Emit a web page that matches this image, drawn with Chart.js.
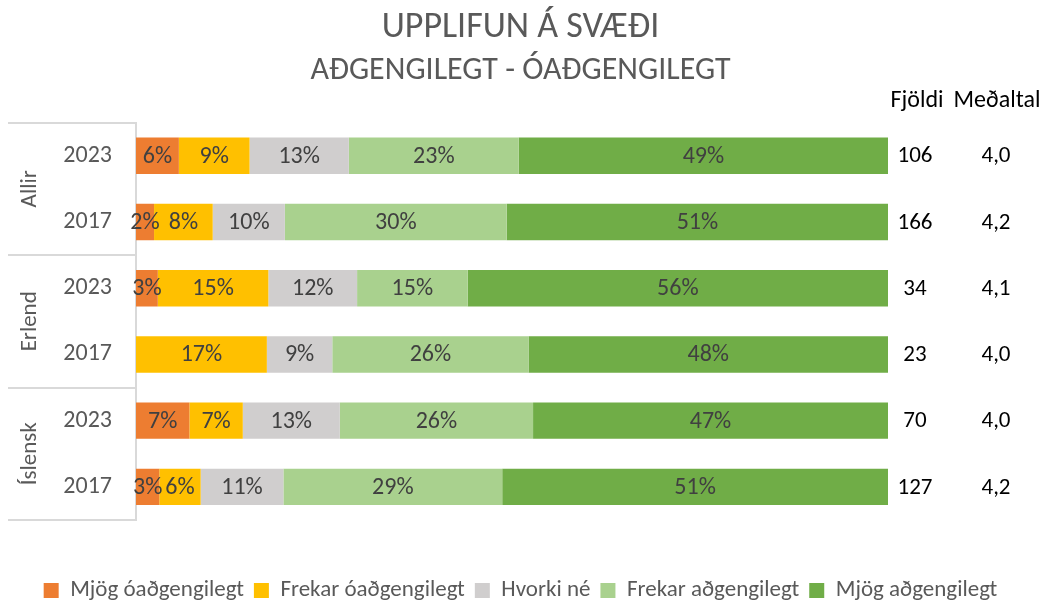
<!DOCTYPE html>
<html lang="is">
<head>
<meta charset="utf-8">
<title>Upplifun á svæði</title>
<script src="https://cdn.jsdelivr.net/npm/chart.js@4"></script>
<style>
  html, body { margin: 0; padding: 0; background: #fff; }
  #wrap { width: 1041px; height: 601px; }
</style>
</head>
<body>
<div id="wrap"><canvas id="chart"></canvas></div>
<script>
const FONT = "Carlito, Calibri, Lato, 'Noto Sans', sans-serif";

// raðir (ár) og hópar
const years = ['2023', '2017', '2023', '2017', '2023', '2017'];
const groups = ['Allir', 'Erlend', 'Íslensk'];

// hlutföll í % fyrir hvern svarflokk (röð eins og years)
const mjogOadg   = [5.7, 2.4, 2.9, 0.0, 7.1, 3.1];
const frekarOadg = [9.4, 7.8, 14.7, 17.4, 7.1, 5.5];
const hvorki     = [13.2, 9.6, 11.8, 8.7, 12.9, 11.0];
const frekarAdg  = [22.6, 29.5, 14.7, 26.1, 25.7, 29.1];
const mjogAdg    = [49.1, 50.7, 55.9, 47.8, 47.2, 51.3];

// aukadálkar
const fjoldi   = ['106', '166', '34', '23', '70', '127'];
const medaltal = ['4,0', '4,2', '4,1', '4,0', '4,0', '4,2'];

const seriesNames = ['Mjög óaðgengilegt', 'Frekar óaðgengilegt', 'Hvorki né', 'Frekar aðgengilegt', 'Mjög aðgengilegt'];
const seriesColors = ['#ED7D31', '#FFC000', '#D0CECE', '#A9D18E', '#70AD47'];
const seriesData = [mjogOadg, frekarOadg, hvorki, frekarAdg, mjogAdg];

// prósentur inni í stöplum
const barLabels = {
  id: 'barLabels',
  afterDatasetsDraw(chart) {
    const ctx = chart.ctx;
    ctx.save();
    ctx.font = `24px ${FONT}`;
    ctx.fillStyle = '#404040';
    ctx.textAlign = 'center';
    ctx.textBaseline = 'middle';
    chart.data.datasets.forEach((ds, di) => {
      const meta = chart.getDatasetMeta(di);
      meta.data.forEach((bar, i) => {
        const v = ds.data[i];
        if (!v) return;
        ctx.fillText(Math.round(v) + '%', (bar.x + bar.base) / 2, bar.y + 1);
      });
    });
    ctx.restore();
  }
};

// hópaheiti, línur og dálkar til hægri
const sideStuff = {
  id: 'sideStuff',
  afterDraw(chart) {
    const ctx = chart.ctx;
    const y = chart.scales.y;
    const area = chart.chartArea;
    const half = (y.getPixelForValue(1) - y.getPixelForValue(0)) / 2;
    ctx.save();
    // línur milli hópa
    ctx.strokeStyle = '#D9D9D9';
    ctx.lineWidth = 2;
    for (let g = 0; g <= groups.length; g++) {
      const yy = Math.round(y.getPixelForValue(g * 2) - half);
      ctx.beginPath();
      ctx.moveTo(8, yy);
      ctx.lineTo(area.left, yy);
      ctx.stroke();
    }
    // hópaheiti, lóðrétt
    ctx.fillStyle = '#595959';
    ctx.font = `23px ${FONT}`;
    ctx.textAlign = 'center';
    ctx.textBaseline = 'middle';
    groups.forEach((g, i) => {
      const yc = (y.getPixelForValue(i * 2) + y.getPixelForValue(i * 2 + 1)) / 2;
      ctx.save();
      ctx.translate(30, yc);
      ctx.rotate(-Math.PI / 2);
      ctx.fillText(g, 0, 0);
      ctx.restore();
    });
    // Fjöldi og Meðaltal
    ctx.fillStyle = '#000';
    ctx.font = `24px ${FONT}`;
    ctx.fillText('Fjöldi', 917, 101);
    ctx.fillText('Meðaltal', 997, 101);
    ctx.font = `23px ${FONT}`;
    years.forEach((_, i) => {
      const yy = y.getPixelForValue(i) + 1;
      ctx.fillText(fjoldi[i], 915, yy);
      ctx.fillText(medaltal[i], 996, yy);
    });
    ctx.restore();
  }
};

new Chart(document.getElementById('chart'), {
  type: 'bar',
  data: {
    labels: years,
    datasets: seriesNames.map((name, i) => ({
      label: name,
      data: seriesData[i],
      backgroundColor: seriesColors[i],
      borderWidth: 0,
      barPercentage: 0.55,
      categoryPercentage: 1
    }))
  },
  options: {
    indexAxis: 'y',
    responsive: true,
    maintainAspectRatio: false,
    animation: false,
    layout: { padding: { left: 0, right: 0, top: 0, bottom: -11 } },
    scales: {
      x: {
        stacked: true, min: 0, max: 100,
        grid: { display: false },
        border: { display: false },
        ticks: { display: false },
        afterFit: s => { s.height = 49; }
      },
      y: {
        stacked: true,
        grid: { display: false },
        border: { display: true, color: '#D9D9D9', width: 2 },
        ticks: { color: '#595959', font: { family: FONT, size: 24 }, padding: 16 },
        afterFit: s => { s.width = 136; }
      },
      // tómur ás hægra megin, rými fyrir Fjöldi / Meðaltal
      yR: {
        axis: 'y', type: 'linear', position: 'right', min: 0, max: 1,
        grid: { display: false },
        border: { display: false },
        ticks: { display: false },
        afterFit: s => { s.width = 153; }
      }
    },
    plugins: {
      title: {
        display: true,
        text: 'UPPLIFUN Á SVÆÐI',
        color: '#595959',
        font: { family: FONT, size: 36, weight: '300' },
        padding: { top: 6, bottom: 3 }
      },
      subtitle: {
        display: true,
        text: 'AÐGENGILEGT - ÓAÐGENGILEGT',
        color: '#595959',
        font: { family: FONT, size: 32, weight: '300' },
        padding: { top: 0, bottom: 32 }
      },
      legend: {
        position: 'bottom',
        labels: {
          boxWidth: 15, boxHeight: 15, padding: 10,
          color: '#595959',
          font: { family: FONT, size: 23 }
        }
      },
      tooltip: { enabled: false }
    }
  },
  plugins: [barLabels, sideStuff]
});
</script>
</body>
</html>
